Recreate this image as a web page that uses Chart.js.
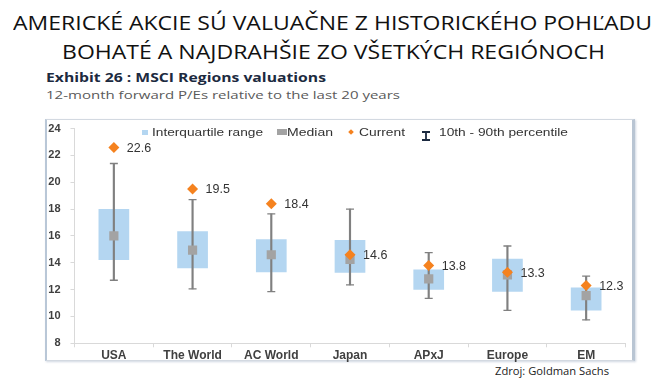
<!DOCTYPE html>
<html>
<head>
<meta charset="utf-8">
<script src="https://cdn.jsdelivr.net/npm/chart.js@4/dist/chart.umd.min.js"></script>
<style>
  html, body { margin: 0; padding: 0; background: #fff; }
  body { width: 661px; height: 383px; position: relative; overflow: hidden; font-family: "Liberation Sans", Arial, sans-serif; }
  .fit { position: absolute; white-space: nowrap; display: inline-block; transform-origin: 0 0; line-height: 1; }
  .title { font-family: "Open Sans", "Liberation Sans", sans-serif; font-size: 20px; color: #111; }
  .exh { font-family: "Open Sans", "Liberation Sans", sans-serif; font-weight: bold; font-size: 13px; color: #1c2a40; }
  .sub { font-family: "Open Sans", "Liberation Sans", sans-serif; font-size: 11.5px; color: #5a5a5a; }
  .src { font-family: "Open Sans", "Liberation Sans", sans-serif; font-size: 11.5px; color: #222; }
  .leg { font-family: "Liberation Sans", Arial, sans-serif; font-size: 11.5px; color: #333; }
  #frame { position: absolute; left: 45px; top: 119px; width: 585px; height: 240px; border: 1px solid #d3d9e1; border-left: 2px solid #b9c7d7; border-right: 3px solid #b9c5d3; background: #fff; box-shadow: 1px 1px 2px rgba(120,140,170,0.35); }
  #wrap { position: absolute; left: 46px; top: 112px; width: 586px; height: 250px; }
  .sw { position: absolute; }
</style>
</head>
<body>
<div id="frame"></div>
<div id="wrap"><canvas id="c"></canvas></div>

<div class="fit title" data-w="639" style="left:13px; top:13.4px;">AMERICKÉ AKCIE SÚ VALUAČNE Z HISTORICKÉHO POHĽADU</div>
<div class="fit title" data-w="543" style="left:62px; top:42.4px;">BOHATÉ A NAJDRAHŠIE ZO VŠETKÝCH REGIÓNOCH</div>
<div class="fit exh" data-w="280" style="left:46px; top:71px;">Exhibit 26 : MSCI Regions valuations</div>
<div class="fit sub" data-w="354" style="left:46px; top:89px;">12-month forward P/Es relative to the last 20 years</div>
<div class="fit src" data-w="114" style="left:495px; top:365px;">Zdroj: Goldman Sachs</div>

<!-- legend -->
<div class="sw" style="left:142px; top:129.5px; width:6px; height:5px; background:#b4d6f1;"></div>
<div class="fit leg" data-w="111" style="left:152px; top:127px;">Interquartile range</div>
<div class="sw" style="left:277px; top:129px; width:10px; height:6px; background:#a3a3a3;"></div>
<div class="fit leg" data-w="46" style="left:287px; top:127px;">Median</div>
<div class="sw" style="left:349px; top:130px; width:4px; height:4px; background:#f5821f; transform:rotate(45deg);"></div>
<div class="fit leg" data-w="46" style="left:359px; top:127px;">Current</div>
<div class="sw" style="left:421px; top:127px; width:10px; height:10px;">
  <svg width="10" height="10" viewBox="0 0 10 10"><path d="M1 1H9M5 1V9M1 9H9" stroke="#1c2a40" stroke-width="1.8" fill="none"/></svg>
</div>
<div class="fit leg" data-w="129" style="left:439px; top:127px;">10th - 90th percentile</div>

<script>
// ---- data ----
const categories = ['USA', 'The World', 'AC World', 'Japan', 'APxJ', 'Europe', 'EM'];
const q1      = [14.2, 13.6, 13.3, 13.25, 12.0, 11.85, 10.45];
const q3      = [18.0, 16.35, 15.75, 15.7, 13.5, 14.3, 12.15];
const median  = [16.0, 14.95, 14.6, 14.25, 12.8, 13.1, 11.55];
const p10     = [12.7, 12.05, 11.85, 12.35, 11.35, 10.45, 9.75];
const p90     = [21.4, 18.7, 17.65, 18.0, 14.75, 15.25, 13.0];
const current = [22.6, 19.5, 18.4, 14.6, 13.8, 13.3, 12.3];
const yTicks  = [8, 10, 12, 14, 16, 18, 20, 22, 24];

// fit texts horizontally
document.querySelectorAll('.fit').forEach(el => {
  const target = parseFloat(el.dataset.w);
  const w = el.getBoundingClientRect().width;
  if (w > 0 && target) el.style.transform = 'scaleX(' + (target / w) + ')';
});

const valueLabels = {
  id: 'valueLabels',
  afterDatasetsDraw(chart) {
    const idx = chart.data.datasets.findIndex(d => d.label === 'Current');
    const meta = chart.getDatasetMeta(idx);
    const ctx = chart.ctx;
    ctx.save();
    ctx.font = '12.5px "Liberation Sans", Arial, sans-serif';
    ctx.fillStyle = '#333';
    ctx.textBaseline = 'middle';
    ctx.textAlign = 'left';
    meta.data.forEach((pt, i) => {
      ctx.fillText(current[i].toFixed(1), pt.x + 13, pt.y + 1);
    });
    ctx.restore();
  }
};

const whiskerColor = '#808080';
new Chart(document.getElementById('c'), {
  type: 'bar',
  data: {
    labels: categories,
    datasets: [
      { label: 'Current', type: 'line', data: current, showLine: false, pointStyle: 'rectRot', pointRadius: 5.5,
        pointBackgroundColor: '#f5821f', pointBorderColor: '#f5821f', pointBorderWidth: 0, order: 1 },
      { label: 'Median', type: 'line', data: median, showLine: false, pointStyle: 'rect', pointRadius: 6.5,
        pointBackgroundColor: '#a3a3a3', pointBorderColor: '#a3a3a3', pointBorderWidth: 0, order: 2 },
      { label: '90th', type: 'line', data: p90, showLine: false, pointStyle: 'line', pointRadius: 4,
        pointBorderColor: whiskerColor, pointBorderWidth: 1.3, order: 3 },
      { label: '10th', type: 'line', data: p10, showLine: false, pointStyle: 'line', pointRadius: 4,
        pointBorderColor: whiskerColor, pointBorderWidth: 1.3, order: 3 },
      { label: '10th - 90th percentile', data: categories.map((c, i) => [p10[i], p90[i]]),
        backgroundColor: whiskerColor, barThickness: 1.5, grouped: false, order: 4 },
      { label: 'Interquartile range', data: categories.map((c, i) => [q1[i], q3[i]]),
        backgroundColor: '#b4d6f1', barPercentage: 0.39, categoryPercentage: 1, grouped: false, order: 5 }
    ]
  },
  options: {
    responsive: true,
    maintainAspectRatio: false,
    animation: false,
    events: [],
    layout: { padding: { top: 12.6, right: 0, bottom: 0, left: 0 } },
    plugins: { legend: { display: false }, tooltip: { enabled: false } },
    scales: {
      x: {
        offset: true,
        grid: { display: true, offset: true, drawOnChartArea: false, tickLength: 4, color: '#d9d9d9' },
        border: { color: '#d9d9d9' },
        ticks: { color: '#404040', padding: 1, font: { family: '"Liberation Sans", Arial, sans-serif', size: 12, weight: 'bold' } },
        afterFit(s) { s.height = 18.7; }
      },
      y: {
        min: yTicks[0], max: yTicks[yTicks.length - 1],
        afterBuildTicks(s) { s.ticks = yTicks.map(v => ({ value: v })); },
        grid: { display: true, drawOnChartArea: false, tickLength: 4, color: '#d9d9d9' },
        border: { color: '#d9d9d9' },
        ticks: { color: '#404040', padding: 10, font: { family: '"Liberation Sans", Arial, sans-serif', size: 11, weight: 'bold' } },
        afterFit(s) { s.width = 28.5; }
      }
    }
  },
  plugins: [valueLabels]
});
</script>
</body>
</html>
